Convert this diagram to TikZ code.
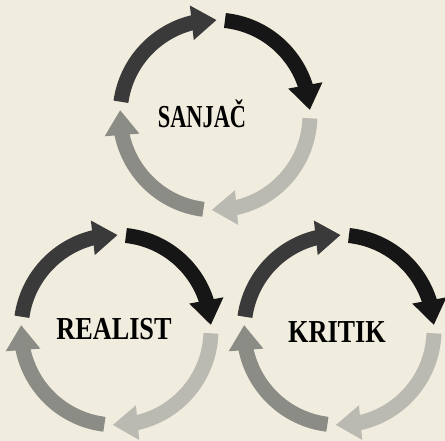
\documentclass[tikz,border=0pt]{standalone}
\usepackage{fontspec}
\setmainfont{Liberation Serif}
\usetikzlibrary{arrows.meta,bending}
\definecolor{bgc}{RGB}{241,237,222}
\definecolor{aDark}{RGB}{58,58,58}
\definecolor{aBlack}{RGB}{22,22,22}
\definecolor{aLight}{RGB}{186,186,178}
\definecolor{aMid}{RGB}{140,140,134}
\tikzset{
  cyc/.style={line width=15pt, -{Triangle[length=25pt,width=33pt,flex]}},
  lbl/.style={font=\bfseries\fontsize{32}{34}\selectfont, anchor=base, inner sep=0pt}
}
\newcommand{\cyclearrows}[1]{%
  \draw[cyc, aDark]  ([shift={(172:95pt)}]#1) arc[start angle=172, end angle=89, radius=95pt];
  \draw[cyc, aBlack] ([shift={(84:95pt)}]#1) arc[start angle=84, end angle=3, radius=95pt];
  \draw[cyc, aLight] ([shift={(-2:95pt)}]#1) arc[start angle=-2, end angle=-92, radius=95pt];
  \draw[cyc, aMid]   ([shift={(-97:95pt)}]#1) arc[start angle=-97, end angle=-183, radius=95pt];
}
\begin{document}
\begin{tikzpicture}[x=1pt,y=1pt]
  \fill[bgc] (0,0) rectangle (445,441);
  \useasboundingbox (0,0) rectangle (445,441);
  \coordinate (ct) at (215,326);
  \coordinate (cl) at (116,111);
  \coordinate (cr) at (339,111);
  \node[lbl] (san) at (202,313) {\scalebox{0.7}[1]{SANJAČ}};
  \node[lbl] (rea) at (114,101) {\scalebox{0.82}[1]{REALIST}};
  \node[lbl] (kri) at (337,98) {\scalebox{0.82}[1]{KRITIK}};
  \cyclearrows{ct}
  \cyclearrows{cl}
  \cyclearrows{cr}
\end{tikzpicture}
\end{document}
